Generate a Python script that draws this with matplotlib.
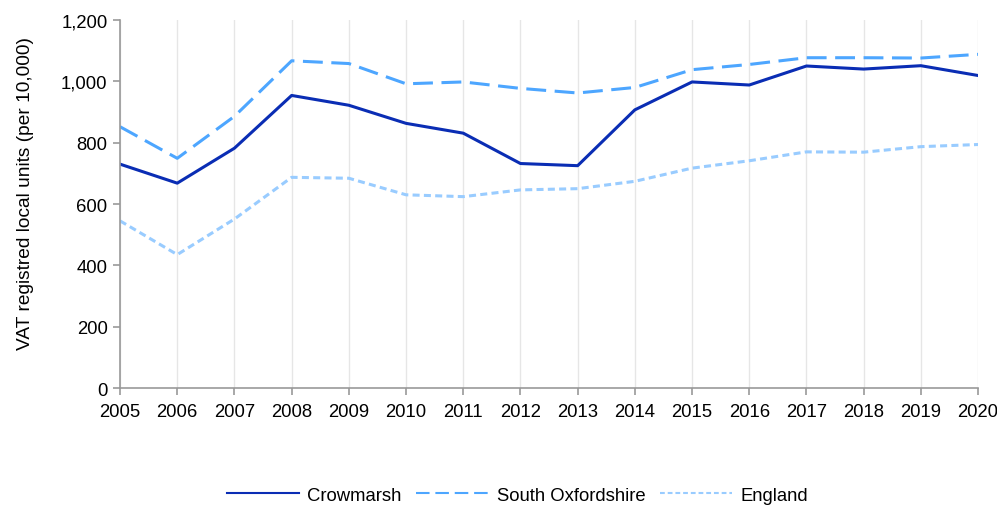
import matplotlib
matplotlib.use("Agg")
import matplotlib.pyplot as plt
from matplotlib.ticker import FuncFormatter

plt.rcParams["font.family"] = ["Liberation Sans", "DejaVu Sans"]

years = list(range(2005, 2021))
crowmarsh = [730, 668, 782, 954, 922, 863, 831, 732, 725, 907, 998, 988, 1050, 1040, 1051, 1019]
south_oxfordshire = [852, 749, 886, 1067, 1058, 992, 998, 977, 962, 980, 1038, 1055, 1077, 1077, 1076, 1088]
england = [545, 435, 551, 687, 684, 630, 624, 646, 650, 674, 717, 741, 770, 769, 787, 794]

fs = 13.3

fig = plt.figure(figsize=(9.97, 5.06), dpi=100)
ax = fig.add_axes([0.1204, 0.2312, 0.8606, 0.7273])

lw = 2.2
ax.plot(years, crowmarsh, color="#0a2db4", lw=lw, label="Crowmarsh")
ax.plot(years, south_oxfordshire, color="#4da6ff", lw=lw, dashes=(6.5, 2.8), label="South Oxfordshire")
ax.plot(years, england, color="#99ccff", lw=lw, dashes=(2.3, 1.4), label="England")

ax.set_xlim(2005, 2020)
ax.set_ylim(0, 1200)
ax.set_xticks(years)
ax.set_yticks(range(0, 1201, 200))
ax.yaxis.set_major_formatter(FuncFormatter(lambda v, p: f"{int(v):,}"))
ax.set_ylabel("VAT registred local units (per 10,000)", fontsize=13.8)
ax.yaxis.set_label_coords(-0.100, 0.531)

ax.grid(axis="x", color="#e6e6e6", lw=1)
ax.set_axisbelow(True)
for s in ["top", "right"]:
    ax.spines[s].set_visible(False)
for s in ["left", "bottom"]:
    ax.spines[s].set_color("#999999")
    ax.spines[s].set_linewidth(1.2)
ax.tick_params(axis="both", colors="#999999", labelcolor="black", labelsize=fs, length=5, width=1.2)
ax.tick_params(axis="x", pad=6)
ax.tick_params(axis="y", pad=4)

handles, labels = ax.get_legend_handles_labels()
leg = fig.legend(handles, labels, loc="center", bbox_to_anchor=(0.519, 0.019), ncol=3, frameon=False,
                 fontsize=fs, handlelength=3.9, columnspacing=0.8, handletextpad=0.45,
                 borderpad=0.1)
for line in leg.get_lines():
    line.set_linewidth(1.5)

fig.savefig("out.png", dpi=100)
